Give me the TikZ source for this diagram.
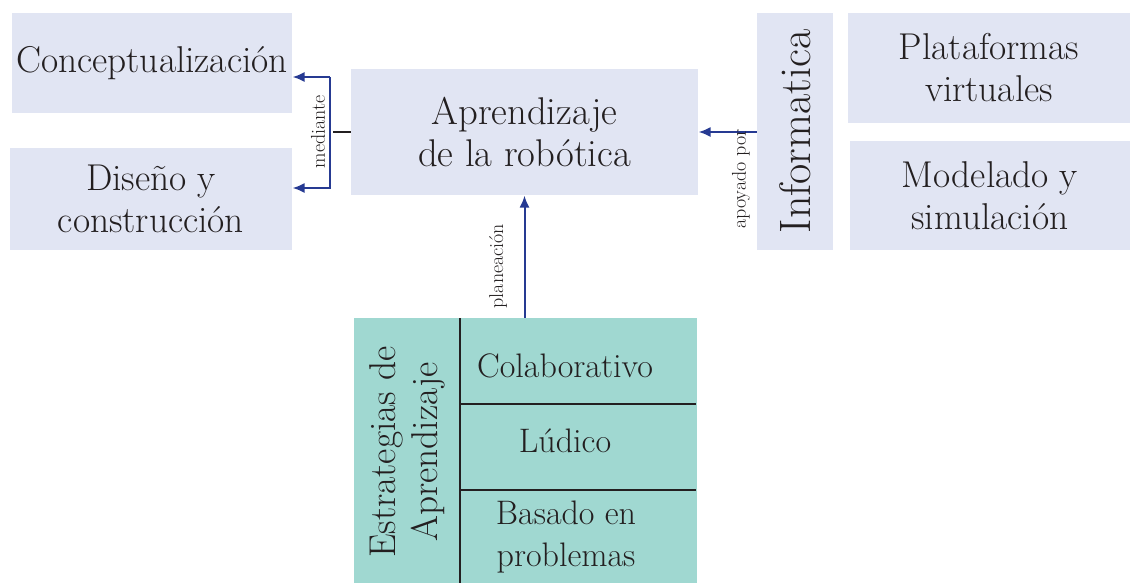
\documentclass[tikz,border=0pt]{standalone}
\usetikzlibrary{arrows.meta}

\definecolor{cajaLila}{RGB}{225,229,243}
\definecolor{cajaVerde}{RGB}{160,216,209}
\definecolor{azulFlecha}{RGB}{38,58,146}
\definecolor{tinta}{RGB}{35,31,32}

\tikzset{every picture/.style={line width=0.75pt}}
\tikzset{
  caja/.style={fill=cajaLila, draw=none, inner sep=0pt, align=center, text=tinta,
    font=\fontsize{28}{31.5}\selectfont},
  tabla/.style={caja, fill=none, font=\fontsize{25.5}{31}\selectfont},
  flecha/.style={draw=azulFlecha, line width=1.5pt, -{Latex[length=9pt,width=7.5pt]}},
  rotulo/.style={rotate=90, text=tinta, font=\fontsize{15}{17}\selectfont, inner sep=1pt},
  division/.style={draw=tinta, line width=1.5pt}
}

\begin{document}
\begin{tikzpicture}[x=0.75pt,y=0.75pt,yscale=-1,xscale=1]
\path[use as bounding box] (0,0) rectangle (1130,583);

% Cajas lila
\node[caja, minimum width=280*0.75pt, minimum height=100*0.75pt] (concep) at (152,63) {Conceptualización};
\node[caja, minimum width=282*0.75pt, minimum height=102*0.75pt] (diseno) at (151,199) {Diseño y\\construcción};
\node[caja, minimum width=347*0.75pt, minimum height=126*0.75pt, font=\fontsize{29}{31.5}\selectfont] (aprend) at (524.5,132) {Aprendizaje\\de la robótica};
\node[caja, minimum width=76*0.75pt, minimum height=237*0.75pt] (inform) at (795,131.5) {};
\node[caja, rotate=90, font=\fontsize{33}{36}\selectfont] (informtxt) at (inform.center) {Informatica};
\node[caja, minimum width=282*0.75pt, minimum height=110*0.75pt] (plataf) at (989,68) {Plataformas\\virtuales};
\node[caja, minimum width=280*0.75pt, minimum height=109*0.75pt] (modelo) at (990,195.5) {Modelado y\\simulación};

% Caja de estrategias
\node[fill=cajaVerde, inner sep=0pt, minimum width=343*0.75pt, minimum height=265*0.75pt] (estrat) at (525.5,450.5) {};
\draw[division] (460,318) -- (460,583);
\draw[division] (460,404) -- (696,404);
\draw[division] (460,490) -- (696,490);
% Text Node
\node[caja, fill=none, rotate=90] (estrattxt) at (407,452) {Estrategias de\\Aprendizaje};
\node[tabla] (colab) at (565,366) {Colaborativo};
\node[tabla] (ludico) at (565,441) {Lúdico};
\node[tabla] (basado) at (566,537) {Basado en\\problemas};

% Conectores
\coordinate (mtop) at (330,77);
\coordinate (mbot) at (330,188);
\draw[tinta, line width=1.5pt] (aprend.west) -- ++(-18,0);
\draw[flecha] (mtop) -- (mbot) -- (mbot -| diseno.east);
\draw[flecha] (mtop) -- (mtop -| concep.east);
\node[rotulo] (mediante) at (318,132) {mediante};

\draw[flecha] (inform.west |- aprend.east) -- (aprend.east);
\node[rotulo] (apoyado) at (741,179) {apoyado por};

\draw[flecha] (aprend.south |- estrat.north) -- (aprend.south);
\node[rotulo] (planea) at (498,266) {planeación};

\end{tikzpicture}
\end{document}
